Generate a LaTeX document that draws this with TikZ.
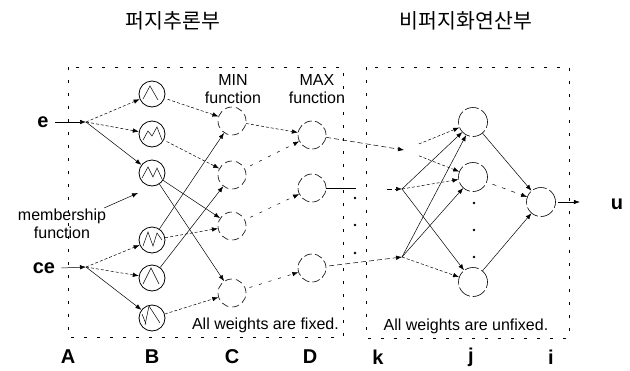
\documentclass[tikz,border=0pt]{standalone}
\usepackage{fontspec}
\setmainfont{Liberation Sans}
\newfontfamily\krfont{Noto Sans CJK KR}
\usetikzlibrary{arrows.meta}
\begin{document}
\begin{tikzpicture}[x=1pt,y=-1pt,
  neuron/.style={circle,draw,minimum size=28pt,inner sep=0pt,line width=0.6pt},
  mfnode/.style={neuron,minimum size=26pt,line width=0.8pt},
  minnode/.style={neuron,dash pattern=on 7pt off 4pt},
  maxnode/.style={neuron,dash pattern=on 8pt off 3pt},
  outnode/.style={neuron,minimum size=29pt,dash pattern=on 14pt off 3pt},
  tip/.style={-{Latex[length=6pt,width=4.5pt]}},
  wire/.style={line width=0.5pt},
  fine/.style={dash pattern=on 3pt off 2pt},
  sparse/.style={dash pattern=on 3pt off 7pt},
  frame/.style={dash pattern=on 3pt off 10pt,line width=0.5pt},
  lbl/.style={font=\fontsize{16}{18}\selectfont,inner sep=0pt,align=center},
  layer/.style={font=\fontsize{20}{22}\selectfont\bfseries,inner sep=0pt},
  title/.style={font=\krfont\fontsize{20.5}{22}\selectfont,inner sep=0pt},
  dot/.style={circle,fill,inner sep=0pt,minimum size=2.6pt}]

\useasboundingbox (0,0) rectangle (630,370);

% section titles
\node[title] (t1) at (173,21) {퍼지추론부};
\node[title] (t2) at (466,21) {비퍼지화연산부};

% dashed section frames
\draw[frame] (68,67) rectangle (343,337);
\draw[frame] (366,67) rectangle (569,338);

% inputs
\node[layer] (e) at (43,122) {e};
\node[layer] (ce) at (44,268) {ce};
\coordinate (ea) at (86,122);
\coordinate (ca) at (86,267);

% membership function layer
\node[mfnode] (B1) at (152,94) {};
\node[mfnode] (B2) at (152,134) {};
\node[mfnode] (B3) at (152,173) {};
\node[mfnode] (B4) at (152,240) {};
\node[mfnode] (B5) at (152,278) {};
\node[mfnode] (B6) at (152,318) {};

% membership shapes inside the circles
\draw[wire] ([shift={(-9,5)}]B1.center) -- ++(7,-13) -- ++(8,14);
\draw[wire] ([shift={(-9,6)}]B2.center) -- ++(5,-9) -- ++(4,5) -- ++(5,-9) -- ++(5,13);
\draw[wire] ([shift={(-10,5)}]B3.center) -- ++(6,-11) -- ++(5,10) -- ++(4,-9) -- ++(5,11);
\draw[wire] ([shift={(-9,6)}]B4.center) -- ++(5,-14) -- ++(5,14) -- ++(4,-13) -- ++(5,7);
\draw[wire] ([shift={(-9,6)}]B5.center) -- ++(8,-16) -- ++(8,16);
\draw[wire] ([shift={(-10,-4)}]B6.center) -- ++(4,10);
\draw[wire] ([shift={(-7,7)}]B6.center) -- ++(4,-19) -- ++(11,17);

% MIN layer
\node[minnode] (C1) at (232,121) {};
\node[minnode] (C2) at (232,175) {};
\node[minnode] (C3) at (232,226) {};
\node[minnode] (C4) at (232,293) {};

% MAX layer
\node[maxnode] (D1) at (312,135) {};
\node[maxnode] (D2) at (312,188) {};
\node[maxnode] (D3) at (312,268) {};

% defuzzification layers
\coordinate (k1) at (404,150);
\coordinate (k2) at (402,189);
\coordinate (k3) at (402,257);
\node[outnode] (j1) at (473,122) {};
\node[outnode] (j2) at (473,177) {};
\node[outnode] (j3) at (473,282) {};
\node[outnode] (i) at (541,202) {};

% layer labels
\node[lbl] (minl) at (233,89) {MIN\\function};
\node[lbl] (maxl) at (317,89) {MAX\\function};
\node[lbl] (mfl) at (62,224) {membership\\function};
\coordinate (mfa) at (138,193);
\node[lbl,anchor=east] (fixed) at (339,325) {All weights are fixed.};
\node[lbl] (unfixed) at (466,326) {All weights are unfixed.};

\node[layer] (lA) at (68,357) {A};
\node[layer] (lB) at (152,357) {B};
\node[layer] (lC) at (232,357) {C};
\node[layer] (lD) at (310,357) {D};
\node[layer] (lk) at (378,357) {k};
\node[layer] (lj) at (471,357) {j};
\node[layer] (li) at (551,357) {i};
\node[layer] (u) at (617,204) {u};

% input arrows and fan-out
\draw[wire,tip] (e.east) ++(6,0) coordinate (e0) -- (ea);
\draw[wire,tip] (ce.east) ++(6,0) coordinate (c0) -- (ca);
\draw[wire,tip,fine] (ea) -- (B1);
\draw[wire,tip,fine] (ea) -- (B2);
\draw[wire,tip] (ea) -- (B3);
\draw[wire,tip,fine] (ca) -- (B4);
\draw[wire,tip,fine] (ca) -- (B5);
\draw[wire,tip] (ca) -- (B6);
\draw[wire,tip] (mfl.north east) ++(-2,-1) coordinate (mf0) -- (mfa);

% membership -> MIN
\draw[wire,tip,fine,shorten <=3pt] (B1) -- (C1);
\draw[wire,tip,fine,shorten <=3pt] (B2) -- (C2);
\draw[wire,tip] (B3) -- (C3);
\draw[wire,tip] (B3) -- (C4);
\draw[wire,tip] (B4) -- (C1);
\draw[wire,tip,fine] (B4) -- (C3);
\draw[wire,tip] (B5) -- (C2);
\draw[wire,tip,fine] (B6) -- (C4);

% MIN -> MAX
\draw[wire,tip,fine] (C1) -- (D1);
\draw[wire,tip,sparse,shorten <=6pt] (C2) -- (D1);
\draw[wire,tip,sparse,shorten <=6pt] (C3) -- (D2);
\draw[wire,tip,sparse,shorten <=4pt] (C4) -- (D3);

% MAX -> defuzzification input
\draw[wire,tip,dash pattern=on 5pt off 3pt] (D1) -- (k1);
\draw[wire] (D2.east) -- ++(30,0) coordinate (d2e);
\coordinate (k2in) at (387,189);
\draw[wire,tip,dash pattern=on 5pt off 3pt] (k2in) -- (k2);
\draw[wire,tip,dash pattern=on 5pt off 3pt,shorten <=3pt] (D3) -- (k3);
\node[dot] (dd1) at (355,198) {};
\node[dot] (dd2) at (355,225) {};
\node[dot] (dd3) at (355,253) {};

% k -> j
\draw[wire,tip,fine,shorten <=16pt] (k1) -- (j1);
\draw[wire,tip,fine,shorten <=16pt] (k1) -- (j2);
\draw[wire,tip] (k2) -- (j1);
\draw[wire,tip,fine] (k2) -- (j2);
\draw[wire,tip] (k2) -- (j3);
\draw[wire,tip] (k3) -- (j1);
\draw[wire,tip] (k3) -- (j2);
\draw[wire,tip,fine] (k3) -- (j3);
\node[dot] (jd1) at (474,203) {};
\node[dot] (jd2) at (474,230) {};
\node[dot] (jd3) at (474,257) {};

% j -> i
\draw[wire,tip] (j1) -- (i);
\draw[wire,tip,dash pattern=on 4pt off 6pt,shorten <=6pt] (j2) -- (i);
\draw[wire,tip] (j3) -- (i);
\draw[wire,tip,shorten <=2pt] (i.east) -- ++(24,0) coordinate (iout);
\end{tikzpicture}
\end{document}
